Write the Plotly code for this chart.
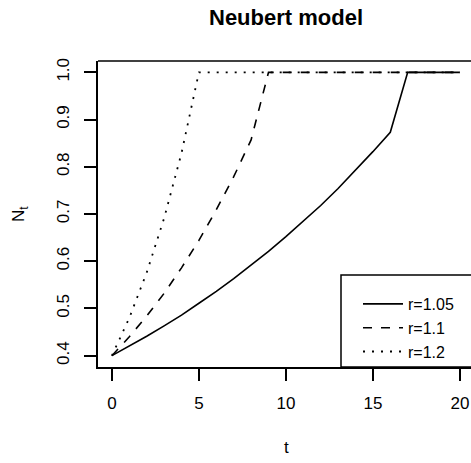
import plotly.graph_objects as go

# Data
t = list(range(21))
n_r105 = [0.4, 0.42, 0.441, 0.463, 0.486, 0.511, 0.536, 0.563, 0.591, 0.621, 0.652,
          0.684, 0.718, 0.754, 0.792, 0.832, 0.873, 1.0, 1.0, 1.0, 1.0]
n_r11 = [0.4, 0.44, 0.484, 0.532, 0.586, 0.644, 0.709, 0.779, 0.857, 1.0, 1.0,
         1.0, 1.0, 1.0, 1.0, 1.0, 1.0, 1.0, 1.0, 1.0, 1.0]
n_r12 = [0.4, 0.48, 0.576, 0.691, 0.829, 1.0, 1.0, 1.0, 1.0, 1.0, 1.0,
         1.0, 1.0, 1.0, 1.0, 1.0, 1.0, 1.0, 1.0, 1.0, 1.0]
series_names = ["r=1.05", "r=1.1", "r=1.2"]
x_ticks = [0, 5, 10, 15, 20]
y_ticks = [0.4, 0.5, 0.6, 0.7, 0.8, 0.9, 1.0]

W, H = 471, 463
L, R, T, B = 98, 0, 61, 96
pw = W - L - R
ph = H - T - B
FONT = "Liberation Sans, Arial, Helvetica, sans-serif"

fig = go.Figure()
styles = [("solid", 1.6), ("9px,9px", 1.6), ("2px,7px", 1.8)]
for name, ys, (dash, w) in zip(series_names, [n_r105, n_r11, n_r12], styles):
    fig.add_trace(go.Scatter(x=t, y=ys, mode="lines", name=name,
                             line=dict(color="black", width=w, dash=dash)))

def px_x(p):
    return (p - L) / pw

def px_y(p):
    return (H - B - p) / ph

fig.update_layout(
    width=W, height=H,
    margin=dict(l=L, r=R, t=T, b=B, pad=0),
    paper_bgcolor="white", plot_bgcolor="white",
    font=dict(family=FONT, size=17, color="black"),
    showlegend=True,
    legend=dict(x=px_x(358), xanchor="left", y=px_y(287), yanchor="top",
                bgcolor="rgba(0,0,0,0)", borderwidth=0,
                font=dict(family=FONT, size=16, color="black"),
                tracegroupgap=0, itemwidth=40),
    xaxis=dict(range=[-0.8, -0.8 + 21.6 * pw / 375.8], tickvals=x_ticks,
               showgrid=False, zeroline=False, showline=True, linecolor="black",
               linewidth=1.5, ticks="outside", ticklen=12, tickwidth=1.5,
               tickcolor="black", ticklabelstandoff=8,
               tickfont=dict(family=FONT, size=17)),
    yaxis=dict(range=[0.376, 1.024], tickvals=y_ticks, tickformat=".1f",
               showgrid=False, zeroline=False, showline=True, linecolor="black",
               linewidth=1.5, ticks="outside", ticklen=12, tickwidth=1.5,
               tickcolor="black", tickangle=-90, ticklabelstandoff=8,
               tickfont=dict(family=FONT, size=17)),
)

# top border of plot box (right side is outside the window)
fig.add_shape(type="line", xref="paper", yref="paper", x0=0, x1=1.05, y0=1, y1=1,
              line=dict(color="black", width=1.5))
# legend box
fig.add_shape(type="rect", xref="paper", yref="paper", x0=px_x(341), x1=1.1,
              y0=0, y1=px_y(275), line=dict(color="black", width=1.5))

fig.add_annotation(text="<b>Neubert model</b>", xref="paper", yref="paper",
                   x=px_x(286), y=px_y(17), xanchor="center", yanchor="middle",
                   showarrow=False, font=dict(family=FONT, size=22, color="black"))
fig.add_annotation(text="t", xref="paper", yref="paper",
                   x=px_x(286), y=px_y(447), xanchor="center", yanchor="middle",
                   showarrow=False, font=dict(family=FONT, size=17, color="black"))
fig.add_annotation(text="N<sub>t</sub>", xref="paper", yref="paper",
                   x=px_x(20), y=px_y(214), xanchor="center", yanchor="middle",
                   textangle=-90, showarrow=False,
                   font=dict(family=FONT, size=17, color="black"))

fig.write_html("out.html")
